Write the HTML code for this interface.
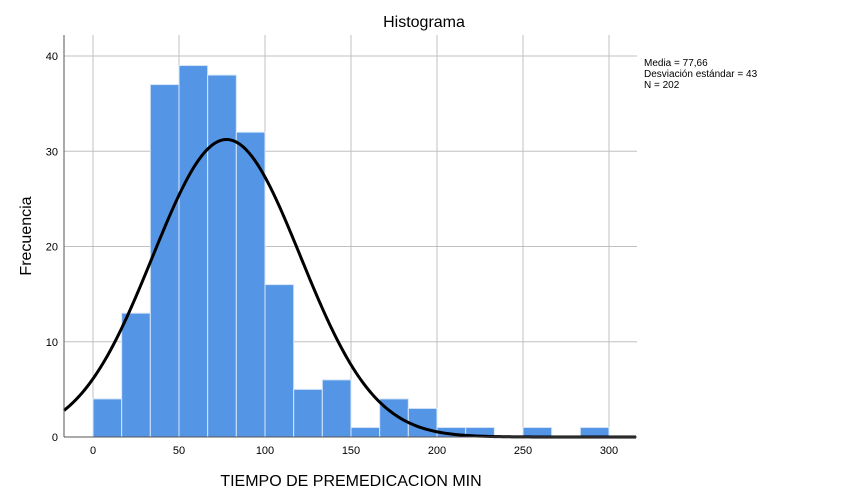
<!DOCTYPE html>
<html><head><meta charset="utf-8"><style>
body{margin:0;background:#fff;}
svg{display:block;font-family:"Liberation Sans",sans-serif;}
</style></head><body>
<svg id="chart" width="850" height="500" viewBox="0 0 850 500">
<rect width="850" height="500" fill="#fff"/>
<text x="424" y="27" font-size="16" text-anchor="middle" fill="#000">Histograma</text>
<text transform="translate(31,236) rotate(-90)" font-size="16" text-anchor="middle" fill="#000">Frecuencia</text>
<text x="351" y="486" font-size="16" text-anchor="middle" fill="#000">TIEMPO DE PREMEDICACION MIN</text>
<g font-size="10" fill="#000">
<text x="644" y="66">Media = 77,66</text>
<text x="644" y="77">Desviación estándar = 43</text>
<text x="644" y="88">N = 202</text>
</g>
<g id="grid"></g><g id="bars"></g><g id="curve"></g><g id="axes"></g>
</svg>
<script>
const binEdgesStart = [0,16.67,33.33,50,66.67,83.33,100,116.67,133.33,150,166.67,183.33,200,216.67,233.33,250,266.67,283.33];
const binWidth = 16.667;
const counts = [4,13,37,39,38,32,16,5,6,1,4,3,1,1,0,1,0,1];
const xTicks = [0,50,100,150,200,250,300];
const yTicks = [0,10,20,30,40];
const mean = 77.66, sd = 43, n = 202;

const L=64,R=637,T=35,B=437;
const X=v=>93+v*(516/300);
const Y=v=>437-v*(381/40);
const ns="http://www.w3.org/2000/svg";
function mk(tag,attrs,parent){const e=document.createElementNS(ns,tag);for(const k in attrs)e.setAttribute(k,attrs[k]);parent.appendChild(e);return e;}
const grid=document.getElementById('grid'),bars=document.getElementById('bars'),curve=document.getElementById('curve'),axes=document.getElementById('axes');
yTicks.forEach(t=>{
  if(t>0){const g=mk('line',{x1:L,x2:R,y1:Y(t),y2:Y(t),stroke:'#c0c0c0','stroke-width':1},grid);
  
  }
  const tx=mk('text',{x:L-6,y:Y(t)+4,'font-size':11,'text-anchor':'end',fill:'#000'},axes);tx.textContent=t;
  
  
});
xTicks.forEach(t=>{
  const g=mk('line',{x1:X(t),x2:X(t),y1:T,y2:B,stroke:'#c0c0c0','stroke-width':1},grid);
  
  
  const tx=mk('text',{x:X(t),y:B+17,'font-size':11,'text-anchor':'middle',fill:'#000'},axes);tx.textContent=t;
  
  
});
counts.forEach((c,i)=>{
  if(c<=0)return;
  const x0=X(binEdgesStart[i]),x1=X(binEdgesStart[i]+binWidth);
  const r=mk('rect',{x:x0,y:Y(c),width:x1-x0,height:Y(0)-Y(c),fill:'#5595e6',stroke:'#d6e6f8','stroke-width':1},bars);
  
  
});
let d='';
for(let px=L;px<=R;px+=2){
  const v=(px-93)*300/516;
  const f=n*binWidth/(sd*Math.sqrt(2*Math.PI))*Math.exp(-0.5*((v-mean)/sd)**2);
  d+=(d?'L':'M')+px+' '+Y(f).toFixed(2);
}
const p=mk('path',{d:d,fill:'none',stroke:'#000','stroke-width':3},curve);


const ax=mk('line',{x1:L,x2:L,y1:T,y2:B,stroke:'#555','stroke-width':1},axes);


const bx=mk('line',{x1:L,x2:R,y1:B,y2:B,stroke:'#555','stroke-width':1},axes);


</script>
</body></html>
